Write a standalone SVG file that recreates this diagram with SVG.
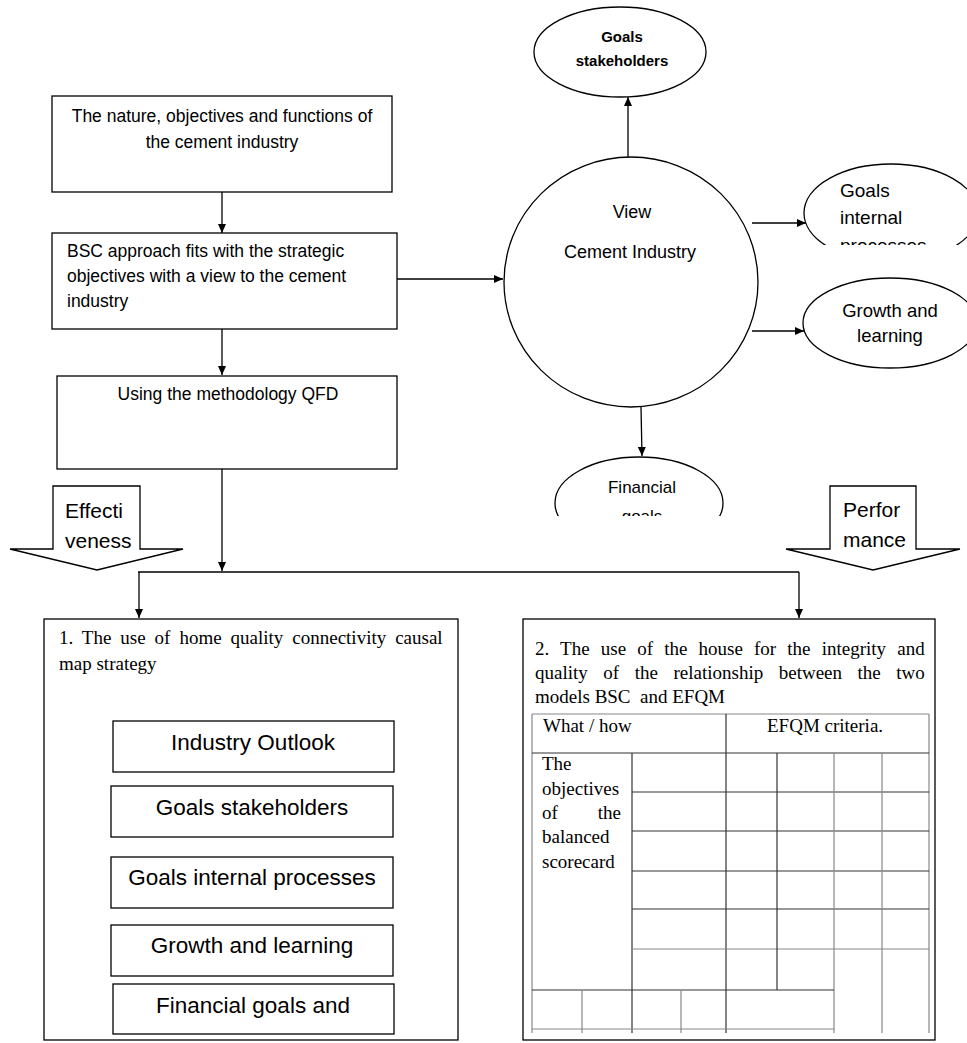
<svg xmlns="http://www.w3.org/2000/svg" width="967" height="1043" viewBox="0 0 967 1043">
<style>
.bx{fill:#fff;stroke:#000;stroke-width:1.3}
.ln{fill:none;stroke:#000;stroke-width:1.3}
.sans{font-family:"Liberation Sans",Arial,sans-serif;fill:#000}
.item{font-family:"Liberation Sans",Arial,sans-serif;fill:#000;font-size:22.5px;text-anchor:middle}
.serif{font-family:"Liberation Serif","Times New Roman",serif;fill:#000;font-size:19px}
.tb{stroke:#333;stroke-width:1.2;fill:none}
.tg{stroke:#888;stroke-width:1.2;fill:none}
</style>
<defs>
<marker id="ah" markerWidth="10" markerHeight="10" refX="9" refY="5" orient="auto" markerUnits="userSpaceOnUse"><path d="M0,1 L9,5 L0,9 Z" fill="#000"/></marker>
<clipPath id="cpGI"><rect x="780" y="150" width="200" height="95"/></clipPath>
<clipPath id="cpGL"><rect x="780" y="270" width="200" height="99"/></clipPath>
<clipPath id="cpFin"><rect x="540" y="440" width="200" height="76"/></clipPath>
</defs>

<g id="connectors">
<line class="ln" x1="222" y1="192" x2="222" y2="233" marker-end="url(#ah)"/>
<line class="ln" x1="397" y1="279" x2="503" y2="279" marker-end="url(#ah)"/>
<line class="ln" x1="222" y1="329" x2="222" y2="375" marker-end="url(#ah)"/>
<line class="ln" x1="628" y1="158" x2="628" y2="97" marker-end="url(#ah)"/>
<line class="ln" x1="752" y1="223" x2="806" y2="223" marker-end="url(#ah)"/>
<line class="ln" x1="752" y1="331" x2="804" y2="331" marker-end="url(#ah)"/>
<line class="ln" x1="641" y1="407" x2="642" y2="456" marker-end="url(#ah)"/>
<line class="ln" x1="222" y1="469" x2="222" y2="571" marker-end="url(#ah)"/>
<line class="ln" x1="138" y1="572" x2="799" y2="572"/>
<line class="ln" x1="139" y1="572" x2="139" y2="618" marker-end="url(#ah)"/>
<line class="ln" x1="799" y1="572" x2="799" y2="618" marker-end="url(#ah)"/>
</g>

<g id="node-nature">
<rect class="bx" x="52" y="96" width="340" height="96"/>
<text class="sans" font-size="17.5" x="222" y="122" text-anchor="middle">The nature, objectives and functions of</text>
<text class="sans" font-size="17.5" x="222" y="148" text-anchor="middle">the cement industry</text>
</g>

<g id="node-bsc">
<rect class="bx" x="52" y="233" width="345" height="96"/>
<text class="sans" font-size="17.5" x="67" y="257">BSC approach fits with the strategic</text>
<text class="sans" font-size="17.5" x="67" y="282">objectives with a view to the cement</text>
<text class="sans" font-size="17.5" x="67" y="307">industry</text>
</g>

<g id="node-qfd">
<rect class="bx" x="57" y="376" width="340" height="93"/>
<text class="sans" font-size="17.5" x="228" y="400" text-anchor="middle">Using the methodology QFD</text>
</g>

<g id="node-view">
<ellipse class="bx" cx="631" cy="282" rx="127" ry="125"/>
<text class="sans" font-size="18" x="632" y="218" text-anchor="middle">View</text>
<text class="sans" font-size="18" x="630" y="258" text-anchor="middle">Cement Industry</text>
</g>

<g id="node-goals-stakeholders">
<ellipse class="bx" cx="620" cy="52" rx="86" ry="45"/>
<text class="sans" font-size="15" font-weight="bold" x="622" y="42" text-anchor="middle">Goals</text>
<text class="sans" font-size="15" font-weight="bold" x="622" y="66" text-anchor="middle">stakeholders</text>
</g>

<g id="node-goals-internal" clip-path="url(#cpGI)">
<ellipse class="bx" cx="891" cy="213" rx="87" ry="49"/>
<text class="sans" font-size="19" x="840" y="197">Goals</text>
<text class="sans" font-size="19" x="840" y="224">internal</text>
<text class="sans" font-size="19" x="840" y="252">processes</text>
</g>

<g id="node-growth" clip-path="url(#cpGL)">
<ellipse class="bx" cx="890" cy="323" rx="87" ry="45"/>
<text class="sans" font-size="18.5" x="890" y="317" text-anchor="middle">Growth and</text>
<text class="sans" font-size="18.5" x="890" y="342" text-anchor="middle">learning</text>
</g>

<g id="node-financial" clip-path="url(#cpFin)">
<ellipse class="bx" cx="639" cy="503" rx="84" ry="46"/>
<text class="sans" font-size="17" x="642" y="493" text-anchor="middle">Financial</text>
<text class="sans" font-size="17" x="642" y="522" text-anchor="middle">goals</text>
</g>

<g id="node-effectiveness">
<path class="bx" d="M53,549 L53,486 L140,486 L140,549 L183,549 L97,570 L10,549 Z"/>
<text class="sans" font-size="21" x="65" y="518">Effecti</text>
<text class="sans" font-size="21" x="65" y="548">veness</text>
</g>

<g id="node-performance">
<path class="bx" d="M830,549 L830,486 L916,486 L916,549 L960,549 L873,570 L786,549 Z"/>
<text class="sans" font-size="21" x="843" y="517">Perfor</text>
<text class="sans" font-size="21" x="843" y="547">mance</text>
</g>

<g id="node-causal-map">
<rect class="bx" x="44" y="619" width="414" height="421"/>
<text class="serif" x="59" y="644" word-spacing="4.2">1. The use of home quality connectivity causal</text>
<text class="serif" x="59" y="670">map strategy</text>
</g>

<g id="node-industry-outlook">
<rect class="bx" x="113" y="721" width="281" height="51"/>
<text class="item" x="253" y="750">Industry Outlook</text>
</g>
<g id="node-goals-stakeholders-2">
<rect class="bx" x="111" y="786" width="282" height="51"/>
<text class="item" x="252" y="815">Goals stakeholders</text>
</g>
<g id="node-goals-internal-2">
<rect class="bx" x="111" y="857" width="282" height="51"/>
<text class="item" x="252" y="885">Goals internal processes</text>
</g>
<g id="node-growth-2">
<rect class="bx" x="111" y="925" width="282" height="51"/>
<text class="item" x="252" y="953">Growth and learning</text>
</g>
<g id="node-financial-2">
<rect class="bx" x="113" y="984" width="281" height="50"/>
<text class="item" x="253" y="1013">Financial goals and</text>
</g>

<g id="node-house">
<rect class="bx" x="523" y="619" width="412" height="421"/>
<text class="serif" x="535" y="655" word-spacing="6.4">2. The use of the house for the integrity and</text>
<text class="serif" x="535" y="679" word-spacing="10.8">quality of the relationship between the two</text>
<text class="serif" x="535" y="703" xml:space="preserve">models BSC  and EFQM</text>
</g>

<g id="table">
<path class="tg" d="M532,714 H929 M532,714 V1033 M929,714 V1033"/>
<path class="tb" d="M532,753 H929 M726,714 V1033"/>
<path class="tb" d="M632,753 V1033"/>
<path class="tb" d="M632,792 H929 M632,831 H929 M632,871 H929 M632,909 H929"/>
<path class="tg" d="M632,949 H929"/>
<path class="tb" d="M777,753 V990"/>
<path class="tg" d="M834,753 V1033 M882,753 V1033"/>
<path class="tb" d="M532,990 H834"/>
<path class="tg" d="M532,1029 H834 M582,990 V1033 M681,990 V1033"/>
<text class="serif" x="543" y="732">What / how</text>
<text class="serif" x="767" y="732">EFQM criteria.</text>
<text class="serif" x="542" y="770">The</text>
<text class="serif" x="542" y="795">objectives</text>
<text class="serif" x="542" y="819">of</text>
<text class="serif" x="621" y="819" text-anchor="end">the</text>
<text class="serif" x="542" y="843">balanced</text>
<text class="serif" x="542" y="868">scorecard</text>
</g>
</svg>
